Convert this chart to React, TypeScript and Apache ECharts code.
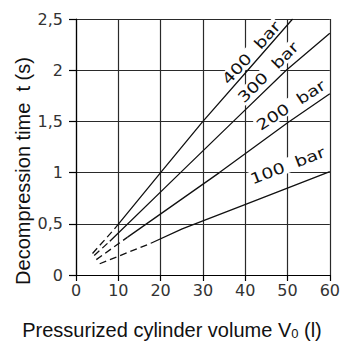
import React, { useEffect, useRef } from "react";
import * as echarts from "echarts";

// ---- data ----
const xTicks = [0, 10, 20, 30, 40, 50, 60];
const yTicks = [0, 0.5, 1, 1.5, 2, 2.5];

const pressureNames = ["400 bar", "300 bar", "200 bar", "100 bar"];

const dashed400 = [[3.9, 0.21], [9.1, 0.45]];
const solid400 = [[9.1, 0.45], [20, 1.0], [30, 1.5], [40.6, 2.0], [51.2, 2.5]];

const dashed300 = [[4.3, 0.19], [8.0, 0.33]];
const solid300 = [[8.0, 0.33], [24.7, 1.0], [37.2, 1.5], [49.7, 2.0], [60, 2.36]];

const dashed200 = [[4.8, 0.15], [12.2, 0.37]];
const solid200 = [[12.2, 0.37], [33.9, 1.0], [50.1, 1.49], [60, 1.77]];

const dashed100 = [[5.6, 0.11], [17.7, 0.31]];
const solid100 = [[17.7, 0.31], [25.1, 0.45], [40.7, 0.7], [60, 1.01]];

// label anchors in data units and text angle (degrees)
const labelAnchors = [[41.4, 2.17], [45.4, 1.98], [50.8, 1.66], [50.0, 1.07]];
const labelAngles = [48, 45, 33, 21];

const xName = "Pressurized cylinder volume V";
const xNameSub = "0";
const xNameTail = " (l)";
const yName = "Decompression time  t (s)";

export default function App() {
  const ref = useRef<HTMLDivElement>(null);

  useEffect(() => {
    if (!ref.current) return;
    const chart = echarts.init(ref.current, undefined, { renderer: "svg" });
    const lineColor = "#111";
    const gridColor = "#2a2a2a";
    const tickFont = "DejaVu Sans";

    const pairs = [
      [dashed400, solid400],
      [dashed300, solid300],
      [dashed200, solid200],
      [dashed100, solid100],
    ];
    const series: any[] = [];
    pairs.forEach(([d, s], i) => {
      series.push({
        name: pressureNames[i] + " dashed",
        type: "line",
        data: d,
        symbol: "none",
        silent: true,
        lineStyle: { color: lineColor, width: 1.3, type: [7, 4] },
        z: 3,
      });
      series.push({
        name: pressureNames[i],
        type: "line",
        data: s,
        symbol: "none",
        silent: true,
        lineStyle: { color: lineColor, width: 1.3 },
        z: 3,
      });
    });

    chart.setOption({
      animation: false,
      grid: { left: 76, right: 11, top: 19, bottom: 66 },
      xAxis: {
        type: "value",
        min: xTicks[0],
        max: xTicks[xTicks.length - 1],
        interval: 10,
        axisLine: { show: true, lineStyle: { color: "#000", width: 1.2 } },
        axisTick: { show: true, length: 6, lineStyle: { color: "#000", width: 1.2 } },
        axisLabel: {
          margin: 7,
          fontFamily: tickFont,
          fontSize: 16,
          color: "#333",
        },
        splitLine: { show: true, lineStyle: { color: gridColor, width: 1.2 } },
      },
      yAxis: {
        type: "value",
        min: yTicks[0],
        max: yTicks[yTicks.length - 1],
        interval: 0.5,
        axisLine: { show: true, lineStyle: { color: "#000", width: 1.2 } },
        axisTick: { show: true, length: 7, lineStyle: { color: "#000", width: 1.2 } },
        axisLabel: {
          margin: 13,
          fontFamily: tickFont,
          fontSize: 16,
          color: "#333",
          formatter: (v: number) => String(v).replace(".", ","),
        },
        splitLine: { show: true, lineStyle: { color: gridColor, width: 1.2 } },
      },
      series,
    });

    const labels = labelAnchors.map((p, i) => {
      const px = chart.convertToPixel({ gridIndex: 0 }, p) as number[];
      return {
        type: "text",
        x: px[0],
        y: px[1],
        rotation: (labelAngles[i] * Math.PI) / 180,
        scaleX: 1.25,
        z: 2,
        silent: true,
        style: {
          text: pressureNames[i].replace(" ", "  "),
          font: '15px "DejaVu Sans"',
          fill: "#111",
          align: "center",
          verticalAlign: "middle",
          backgroundColor: "#fff",
          padding: [0, 1],
        },
      };
    });

    chart.setOption({
      graphic: [
        ...labels,
        {
          type: "text",
          x: 172,
          y: 330,
          silent: true,
          style: {
            text: xName + "{sub|" + xNameSub + "}" + xNameTail,
            font: '20px "Liberation Sans"',
            fill: "#111",
            align: "center",
            verticalAlign: "middle",
            rich: {
              sub: { fontSize: 13, fontFamily: "Liberation Sans", padding: [7, 0, 0, 0] },
            },
          },
        },
        {
          type: "text",
          x: 23,
          y: 171,
          rotation: Math.PI / 2,
          silent: true,
          style: {
            text: yName,
            font: '20px "Liberation Sans"',
            fill: "#111",
            align: "center",
            verticalAlign: "middle",
          },
        },
      ],
    });

    return () => chart.dispose();
  }, []);

  return (
    <div
      ref={ref}
      style={{ position: "fixed", left: 0, top: 0, width: 343, height: 341, background: "#fff" }}
    />
  );
}
